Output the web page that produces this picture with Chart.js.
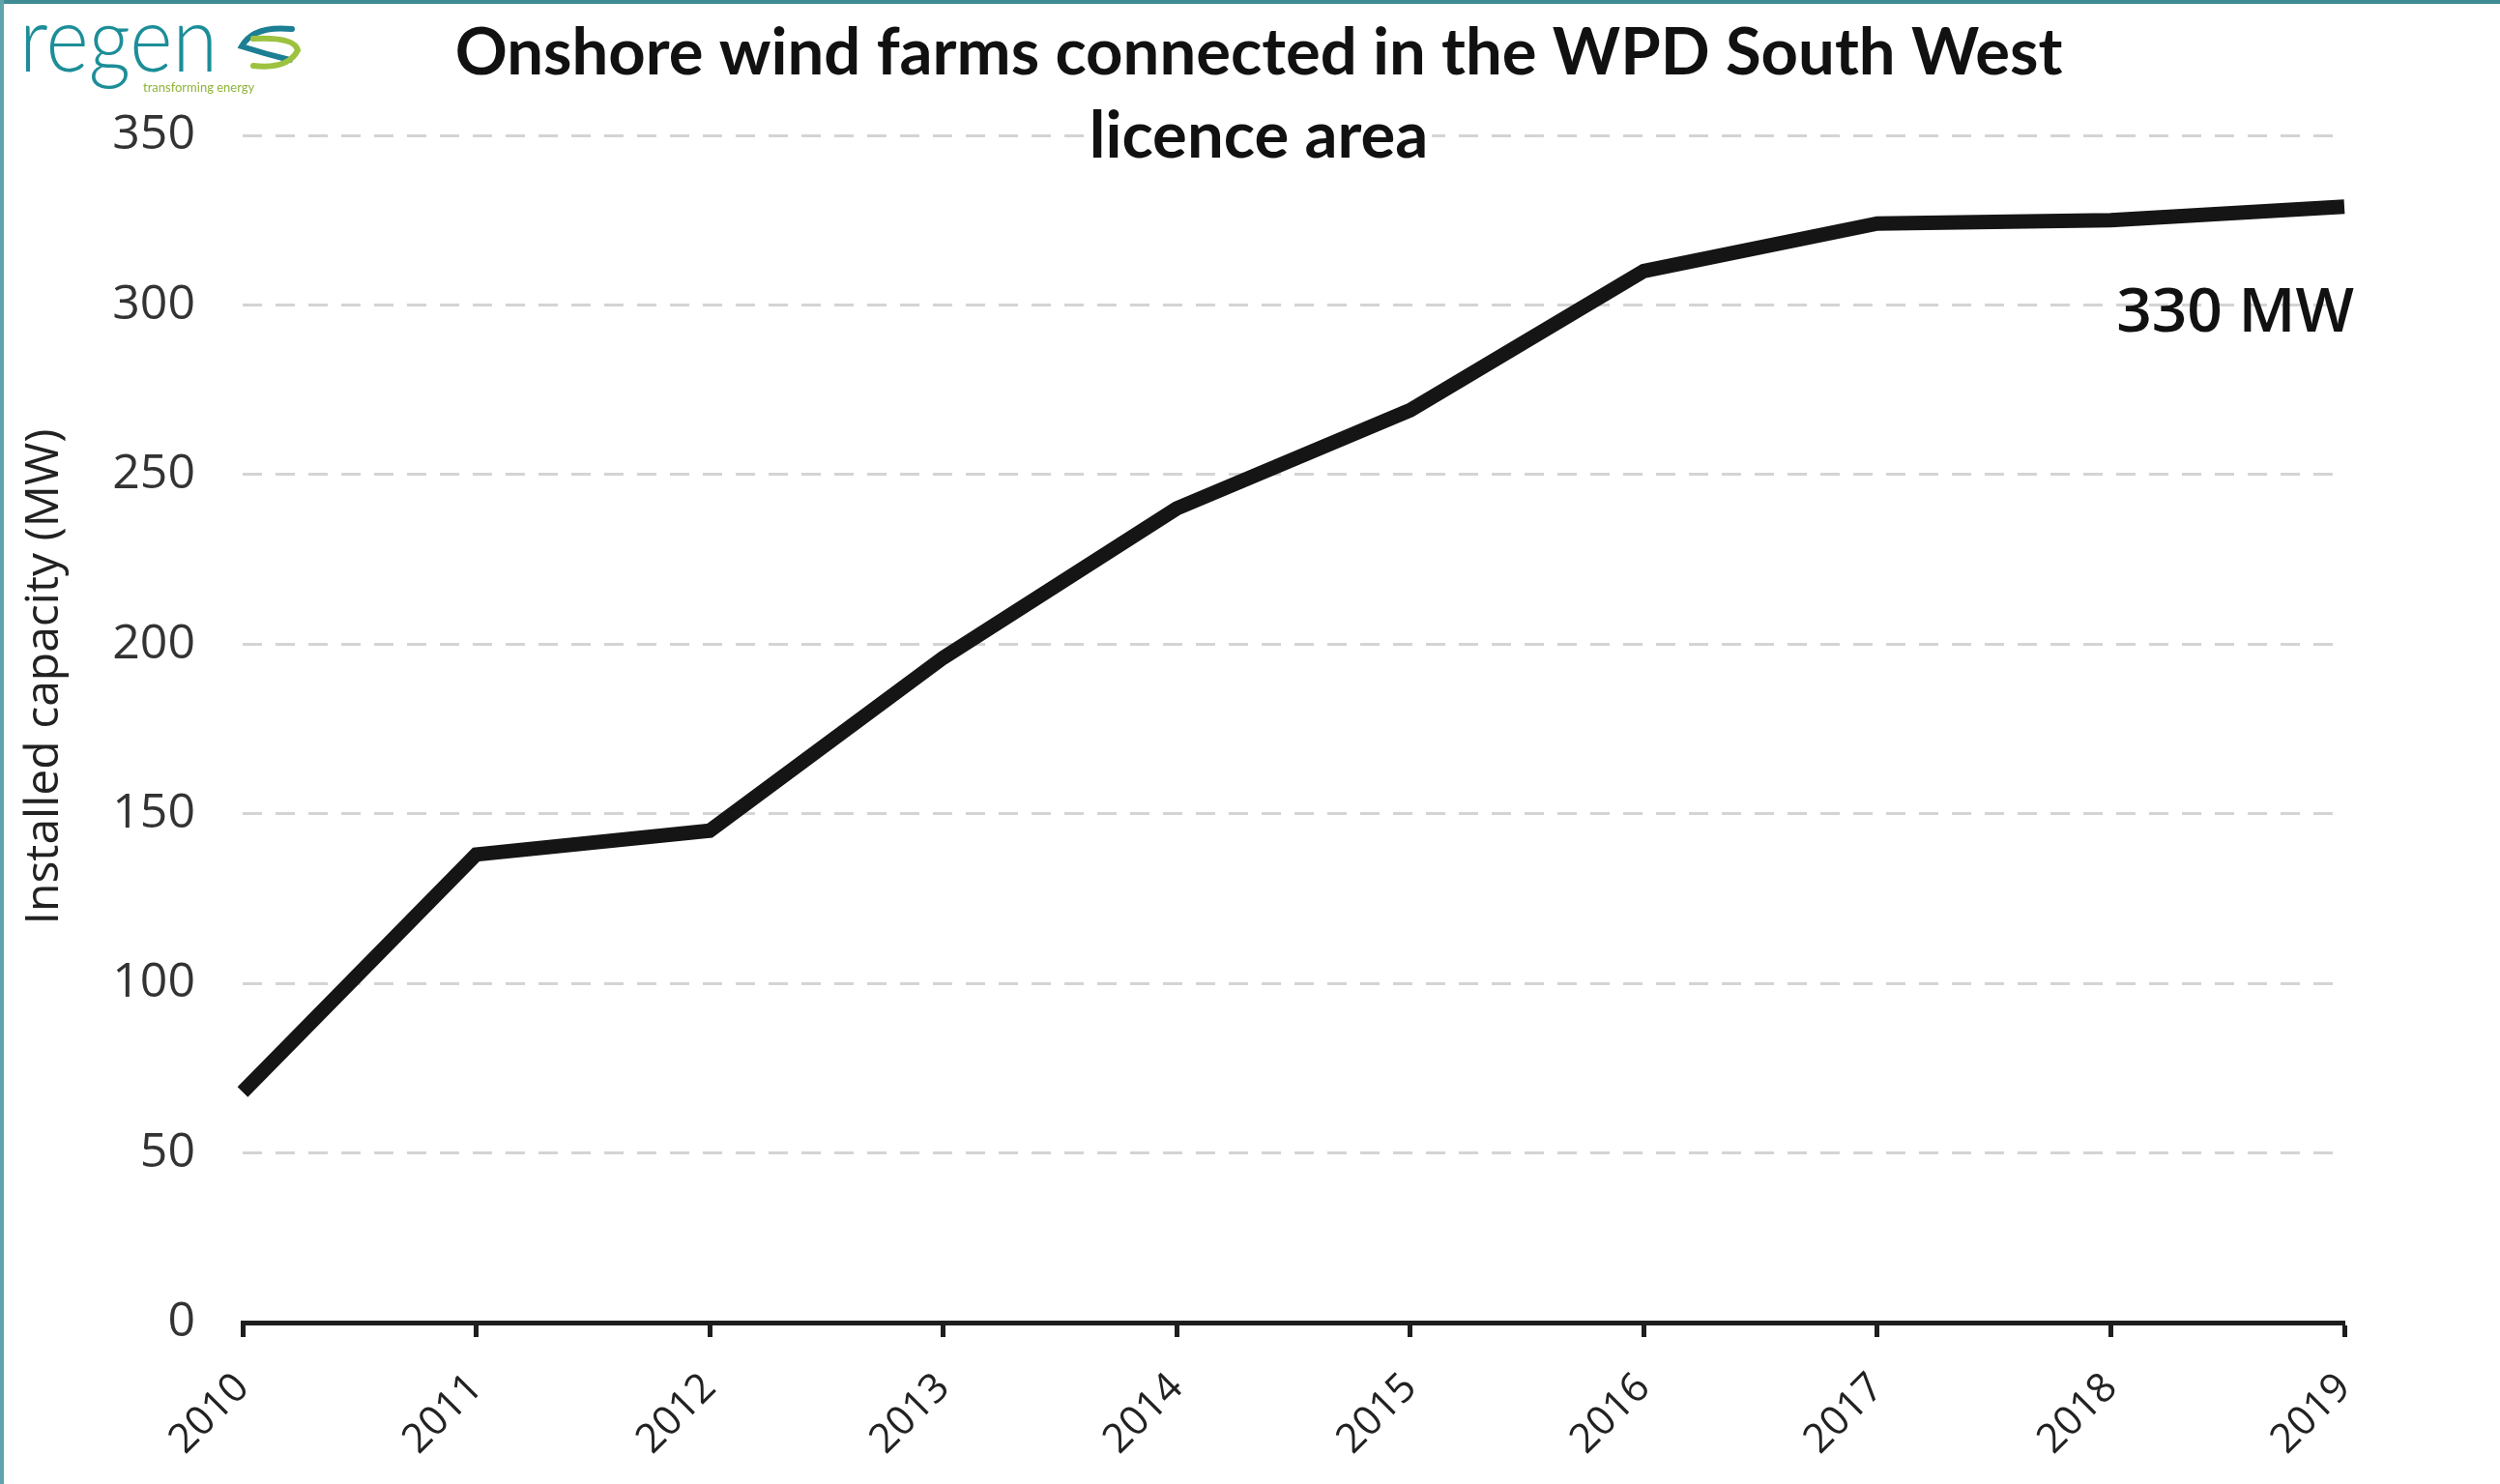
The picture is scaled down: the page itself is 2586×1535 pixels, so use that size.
<!DOCTYPE html>
<html>
<head>
<meta charset="utf-8">
<title>Onshore wind farms connected in the WPD South West licence area</title>
<script src="https://cdn.jsdelivr.net/npm/chart.js@4.4.1/dist/chart.umd.min.js"></script>
<style>
  html, body { margin: 0; padding: 0; background: #ffffff; overflow: hidden; }
  #wrap { position: relative; width: 2586px; height: 1535px; }
</style>
</head>
<body>
<div id="wrap"><canvas id="c"></canvas></div>
<script>
const years = ['2010','2011','2012','2013','2014','2015','2016','2017','2018','2019'];
const capacityMW = [68, 138, 145, 196, 240, 269, 310, 324, 325, 329];
const yTicks = [0, 50, 100, 150, 200, 250, 300, 350];
const titleLines = ['Onshore wind farms connected in the WPD South West', 'licence area'];
const yAxisTitle = 'Installed capacity (MW)';
const endLabel = '330 MW';
const logoText = 'regen';
const logoTagline = 'transforming energy';

const decorPlugin = {
  id: 'decor',
  beforeDraw(chart) {
    const ctx = chart.ctx;
    ctx.save();
    ctx.fillStyle = '#ffffff';
    ctx.fillRect(0, 0, chart.width, chart.height);
    ctx.restore();
  },
  afterDraw(chart) {
    const ctx = chart.ctx;
    const xs = chart.scales.x, ys = chart.scales.y;
    ctx.save();
    // Title with white background behind text
    ctx.textAlign = 'center';
    ctx.textBaseline = 'alphabetic';
    ctx.font = 'bold 67px Lato';
    const cx = 1302;
    const baselines = [77, 163];
    titleLines.forEach((t, i) => {
      const w = ctx.measureText(t).width;
      ctx.fillStyle = '#ffffff';
      ctx.fillRect(cx - w / 2 - 4, baselines[i] - 56, w + 8, 72);
      ctx.fillStyle = '#111111';
      ctx.fillText(t, cx, baselines[i]);
    });
    // Y axis title
    ctx.save();
    ctx.translate(46, 700);
    ctx.rotate(-Math.PI / 2);
    ctx.font = '48px "Open Sans"';
    ctx.fillStyle = '#222222';
    ctx.textAlign = 'center';
    ctx.textBaseline = 'middle';
    ctx.fillText(yAxisTitle, 0, 0);
    ctx.restore();
    // End-value annotation
    const lx = xs.getPixelForValue(years.length - 1) + 10;
    const ly = ys.getPixelForValue(capacityMW[capacityMW.length - 1]) + 129;
    ctx.font = '600 64px "Open Sans"';
    ctx.fillStyle = '#111111';
    ctx.textAlign = 'right';
    ctx.textBaseline = 'alphabetic';
    ctx.fillText(endLabel, lx, ly);
    // Logo
    ctx.save();
    ctx.translate(20, 74);
    ctx.scale(0.9, 1);
    ctx.font = '300 94px Lato';
    ctx.fillStyle = '#1c8e98';
    ctx.textAlign = 'left';
    ctx.fillText(logoText, 0, 0);
    ctx.restore();
    ctx.font = '13px Lato';
    ctx.fillStyle = '#8fb43c';
    ctx.textAlign = 'left';
    ctx.fillText(logoTagline, 148, 95);
    // swirl icon
    ctx.lineCap = 'round';
    ctx.lineWidth = 6;
    ctx.strokeStyle = '#1c7f93';
    ctx.beginPath();
    ctx.moveTo(302, 30);
    ctx.quadraticCurveTo(262, 26, 250, 48);
    ctx.quadraticCurveTo(275, 56, 300, 62);
    ctx.stroke();
    ctx.strokeStyle = '#9cc23f';
    ctx.beginPath();
    ctx.moveTo(262, 40);
    ctx.quadraticCurveTo(305, 38, 308, 52);
    ctx.quadraticCurveTo(298, 72, 262, 68);
    ctx.stroke();
    // Frame borders
    ctx.fillStyle = '#3e8b93';
    ctx.fillRect(0, 0, chart.width, 4);
    ctx.fillStyle = '#5fa4ac';
    ctx.fillRect(0, 0, 4, chart.height);
    ctx.restore();
  }
};

new Chart(document.getElementById('c'), {
  type: 'line',
  data: {
    labels: years,
    datasets: [{
      label: 'Installed capacity (MW)',
      data: capacityMW,
      borderColor: '#151515',
      borderWidth: 15,
      pointRadius: 0,
      pointHoverRadius: 0,
      tension: 0,
      fill: false,
      borderJoinStyle: 'miter'
    }]
  },
  options: {
    responsive: true,
    maintainAspectRatio: false,
    animation: false,
    events: [],
    layout: { padding: { top: 140, right: 161, bottom: 0, left: 0 } },
    plugins: {
      legend: { display: false },
      tooltip: { enabled: false },
      title: { display: false }
    },
    scales: {
      x: {
        type: 'category',
        offset: false,
        afterFit(scale) { scale.height = 167; },
        grid: {
          drawOnChartArea: false,
          drawTicks: true,
          tickLength: 15,
          tickWidth: 5,
          color: '#1e1e1e'
        },
        border: { display: true, color: '#1e1e1e', width: 5 },
        ticks: {
          autoSkip: false,
          maxRotation: 45,
          minRotation: 45,
          padding: 28,
          color: '#222222',
          font: { family: '"Open Sans"', size: 42 }
        }
      },
      y: {
        min: 0,
        max: 350,
        afterFit(scale) { scale.width = 251; },
        afterBuildTicks(scale) { scale.ticks = yTicks.map(v => ({ value: v })); },
        grid: {
          drawTicks: false,
          color: (c) => c.tick && c.tick.value === 0 ? 'rgba(0,0,0,0)' : '#d4d4d4',
          lineWidth: 3
        },
        border: { display: false, dash: [20, 14] },
        ticks: {
          padding: 49,
          color: '#333333',
          font: { family: '"Open Sans"', size: 50 }
        }
      }
    }
  },
  plugins: [decorPlugin]
});
</script>
</body>
</html>
